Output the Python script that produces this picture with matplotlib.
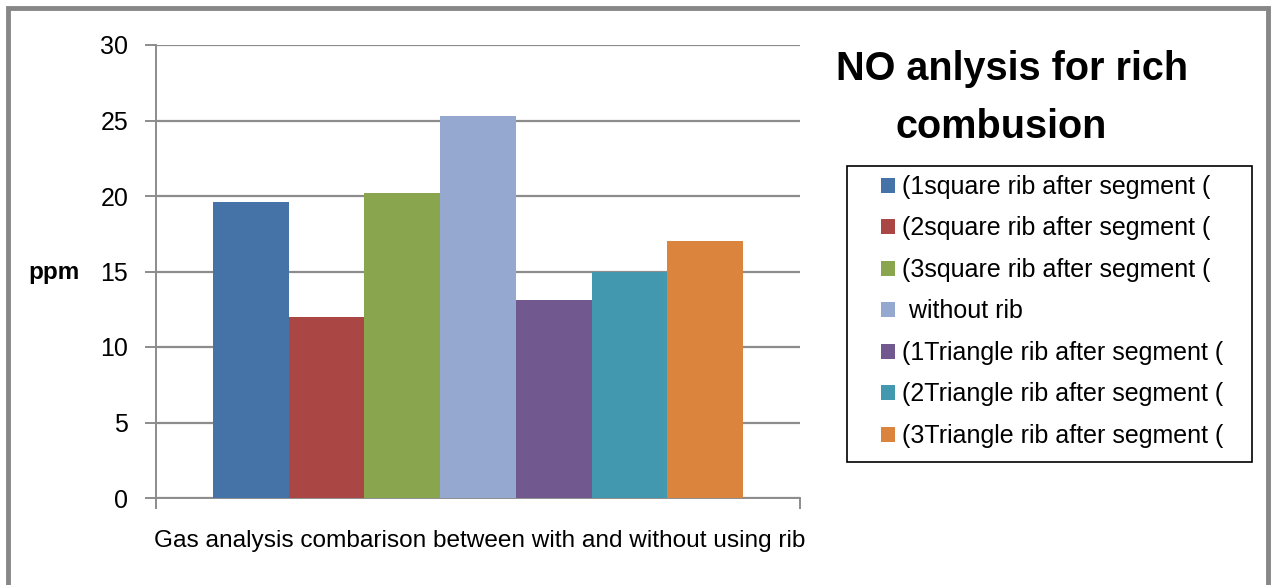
import matplotlib
matplotlib.use('Agg')
import matplotlib.pyplot as plt
from matplotlib.patches import Rectangle

# data
series_labels = ['(1square rib after segment (',
                 '(2square rib after segment (',
                 '(3square rib after segment (',
                 ' without rib',
                 '(1Triangle rib after segment (',
                 '(2Triangle rib after segment (',
                 '(3Triangle rib after segment (']
no_ppm = [19.6, 12.0, 20.2, 25.3, 13.1, 15.0, 17.0]
bar_colors = ['#4572A7', '#AA4643', '#89A54E', '#95A9D0', '#71588F', '#4198AF', '#DB843D']
y_ticks = [0, 5, 10, 15, 20, 25, 30]
x_title = 'Gas analysis combarison between with and without using rib'
title_lines = ['NO anlysis for rich', 'combusion']

plt.rcParams['font.family'] = ['Liberation Sans', 'DejaVu Sans']

W, H = 1271, 585
fig = plt.figure(figsize=(W / 100, H / 100), dpi=100)
# grey outer frame of the chart object
fig.patches.append(Rectangle((0.0065, -0.02), 0.991, 1.006, transform=fig.transFigure,
                             fill=False, edgecolor='#878787', linewidth=3.5))

ax = fig.add_axes([156 / W, 1 - 498 / H, 644 / W, 453 / H])

# excel style clustered bars, gap width 150%
n = len(no_ppm)
w = 1 / (n + 1.5)
for i, (val, col, lab) in enumerate(zip(no_ppm, bar_colors, series_labels)):
    ax.bar(0.75 * w + (i + 0.5) * w, val, width=w, color=col, label=lab, zorder=3, linewidth=0)

ax.set_xlim(0, 1)
ax.set_ylim(0, 30)
ax.set_yticks(y_ticks)
ax.set_xticks([0, 1])
ax.set_xticklabels(['', ''])
ax.yaxis.grid(True, color='#8c8c8c', linewidth=1.6, zorder=0)
for s in ['top', 'right']:
    ax.spines[s].set_visible(False)
for s in ['left', 'bottom']:
    ax.spines[s].set_color('#8c8c8c')
    ax.spines[s].set_linewidth(1.4)
ax.tick_params(axis='y', length=8, color='#8c8c8c', width=1.4, labelsize=18, pad=12)
ax.tick_params(axis='x', length=8, color='#8c8c8c', width=1.4)

fig.text(28 / W, 1 - 273 / H, 'ppm', fontsize=17.5, fontweight='bold', va='center', ha='left')
fig.text(480 / W, 1 - 541 / H, x_title, fontsize=17.6, ha='center', va='center')
fig.text(1012 / W, 1 - 80 / H, title_lines[0], fontsize=28.5, fontweight='bold',
         ha='center', va='baseline')
fig.text(1001 / W, 1 - 138 / H, title_lines[1], fontsize=28.5, fontweight='bold',
         ha='center', va='baseline')

leg = ax.legend(loc='upper left', bbox_to_anchor=(881 / W, 1 - 175 / H),
                bbox_transform=fig.transFigure, frameon=False,
                prop={'size': 18}, handlelength=0.56, handleheight=0.56,
                handletextpad=0.3, labelspacing=0.7, borderpad=0, borderaxespad=0)
fig.patches.append(Rectangle((847 / W, 1 - 462 / H), 405 / W, 296 / H, transform=fig.transFigure,
                             fill=False, edgecolor='black', linewidth=1.2))

fig.savefig('out.png', dpi=100)
